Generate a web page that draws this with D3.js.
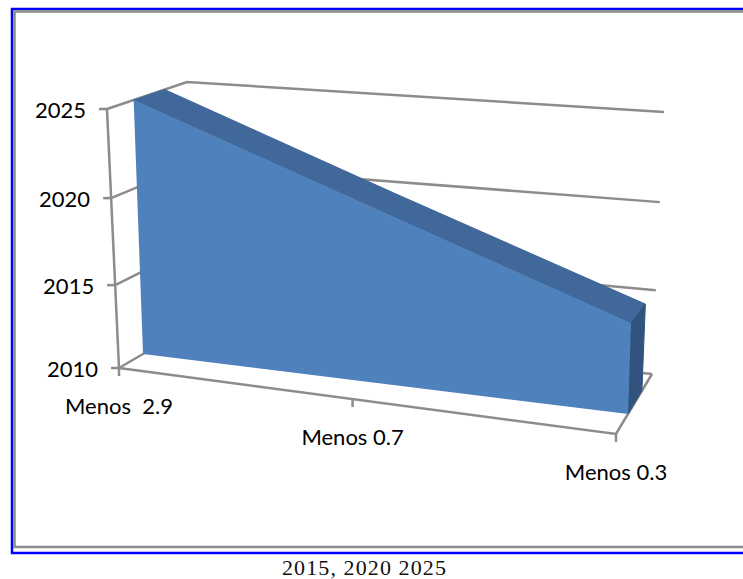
<!DOCTYPE html>
<html>
<head>
<meta charset="utf-8">
<script src="https://cdnjs.cloudflare.com/ajax/libs/d3/7.8.5/d3.min.js"></script>
<style>
html, body { margin: 0; padding: 0; background: #fff; overflow: hidden; }
svg { display: block; }
.label { font-family: Lato, sans-serif; font-size: 22px; fill: #000; white-space: pre; }
.caption { font-family: "Liberation Serif", serif; font-size: 22px; fill: #111; letter-spacing: 1.1px; }
.grid { fill: none; stroke: #8c8c8c; stroke-width: 2.5; }
</style>
</head>
<body>
<script>
// chart values
var categories = ['Menos  2.9', 'Menos 0.7', 'Menos 0.3'];
var years = [2025, 2020, 2015];
var yearTicks = [2010, 2015, 2020, 2025];
var caption = '2015, 2020 2025';

var svgWidth = 743;
var svgHeight = 579;

var svg = d3.select('body')
    .append('svg')
    .attr('width', svgWidth)
    .attr('height', svgHeight);

// page frame, blue outside and gray inside
svg.append('path')
    .attr('d', 'M743,9H12V553H743')
    .attr('fill', 'none')
    .attr('stroke', '#0000ff')
    .attr('stroke-width', 2.5);
svg.append('path')
    .attr('d', 'M743,11.5H14.5V547H743')
    .attr('fill', 'none')
    .attr('stroke', '#8c8c8c')
    .attr('stroke-width', 2.5);

// scales go to 0..1 along each edge of the 3d box
// the year axis is not quite even in the picture, perspective squeezes the low end
var uScale = d3.scaleOrdinal().domain(categories).range([0, 0.47, 1]);
var vScale = d3.scaleLinear().domain(yearTicks).range([0, 0.32, 0.656, 1]);

// box corners on screen: front/back, left/right, floor/top
var xFrontLeft = d3.scaleLinear().domain([0, 1]).range([119, 107]);
var yFrontLeft = d3.scaleLinear().domain([0, 1]).range([368, 109]);
var xFrontRight = d3.scaleLinear().domain([0, 1]).range([616, 623.5]);
var yFrontRight = d3.scaleLinear().domain([0, 1]).range([434, 139.5]);
var xBackLeft = d3.scaleLinear().domain([0, 1]).range([191, 187]);
var yBackLeft = d3.scaleLinear().domain([0, 1]).range([326, 82]);
var xBackRight = d3.scaleLinear().domain([0, 1]).range([652, 664]);
var yBackRight = d3.scaleLinear().domain([0, 1]).range([374, 112]);

function project(u, v, w) {
    var fx = d3.interpolateNumber(xFrontLeft(v), xFrontRight(v))(u);
    var fy = d3.interpolateNumber(yFrontLeft(v), yFrontRight(v))(u);
    var bx = d3.interpolateNumber(xBackLeft(v), xBackRight(v))(u);
    var by = d3.interpolateNumber(yBackLeft(v), yBackRight(v))(u);
    return [fx + (bx - fx) * w, fy + (by - fy) * w];
}

var line = d3.line();
var chartGroup = svg.append('g');

// side wall and back wall lines
yearTicks.forEach(function(year) {
    var v = vScale(year);
    chartGroup.append('path')
        .attr('class', 'grid')
        .attr('d', line([project(0, v, 0), project(0, v, 1), project(1, v, 1)]));
});

// floor edge and vertical axis
chartGroup.append('path')
    .attr('class', 'grid')
    .attr('d', line([project(0, 0, 0), project(1, 0, 0), project(1, 0, 1)]));
chartGroup.append('path')
    .attr('class', 'grid')
    .attr('d', line([project(0, 0, 0), project(0, 1, 0)]));

// year ticks and labels
yearTicks.forEach(function(year) {
    var p = project(0, vScale(year), 0);
    chartGroup.append('line')
        .attr('class', 'grid')
        .attr('x1', p[0] - 8).attr('y1', p[1])
        .attr('x2', p[0]).attr('y2', p[1]);
    chartGroup.append('text')
        .attr('class', 'label')
        .attr('x', p[0] - 21)
        .attr('y', p[1] + 9)
        .attr('text-anchor', 'end')
        .text(year);
});

// category ticks and labels
categories.forEach(function(cat) {
    var p = project(uScale(cat), 0, 0);
    chartGroup.append('line')
        .attr('class', 'grid')
        .attr('x1', p[0]).attr('y1', p[1])
        .attr('x2', p[0]).attr('y2', p[1] + 8);
    chartGroup.append('text')
        .attr('class', 'label')
        .attr('x', p[0])
        .attr('y', p[1] + 46)
        .attr('text-anchor', 'middle')
        .text(cat);
});

// the 3d area sits between these two depths
var depthFront = 1 / 3;
var depthBack = 0.72;

var topFront = categories.map((c, i) => project(uScale(c), vScale(years[i]), depthFront));
var floorFront = categories.map(c => project(uScale(c), 0, depthFront));
var topBack = categories.map((c, i) => project(uScale(c), vScale(years[i]), depthBack));
var last = categories.length - 1;
var lastCat = categories[last];

// top face
chartGroup.append('path')
    .attr('d', line(topFront.concat(topBack.slice().reverse())) + 'Z')
    .attr('fill', '#41689a')
    .attr('stroke', '#41689a');

// right end face
chartGroup.append('path')
    .attr('d', line([
        topFront[last],
        topBack[last],
        project(uScale(lastCat), 0, depthBack),
        floorFront[last]
    ]) + 'Z')
    .attr('fill', '#31547f')
    .attr('stroke', '#31547f');

// front face
chartGroup.append('path')
    .attr('d', line(topFront.concat(floorFront.slice().reverse())) + 'Z')
    .attr('fill', '#4f81bd');

svg.append('text')
    .attr('class', 'caption')
    .attr('x', 282)
    .attr('y', 575)
    .text(caption);
</script>
</body>
</html>
